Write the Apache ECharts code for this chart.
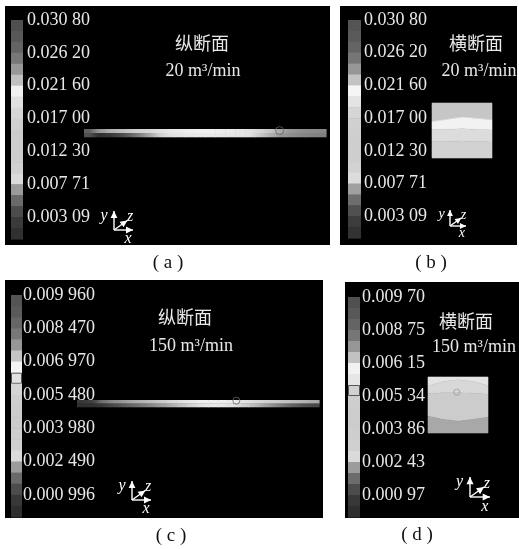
<!DOCTYPE html>
<html><head><meta charset="utf-8">
<script src="https://cdn.jsdelivr.net/npm/echarts@6/dist/echarts.min.js"></script>
<style>html,body{margin:0;padding:0;background:#fff}#c{width:519px;height:549px}</style>
</head><body><div id="c"></div>
<script>
// ---- colour-bar tick labels ----
const labelsA = ['0.030 80','0.026 20','0.021 60','0.017 00','0.012 30','0.007 71','0.003 09'];
const labelsB = ['0.030 80','0.026 20','0.021 60','0.017 00','0.012 30','0.007 71','0.003 09'];
const labelsC = ['0.009 960','0.008 470','0.006 970','0.005 480','0.003 980','0.002 490','0.000 996'];
const labelsD = ['0.009 70','0.008 75','0.006 15','0.005 34','0.003 86','0.002 43','0.000 97'];
// ---- colour-bar band grey levels (top -> bottom, 20 bands) ----
const bandGrayA = [80,88,100,120,152,192,240,224,214,208,204,204,205,208,218,154,106,76,58,48];
const bandGrayB = [84,90,100,118,150,195,245,228,214,208,206,206,206,210,220,160,110,80,60,50];
const bandGrayC = [84,90,102,120,150,196,244,226,212,206,204,204,206,208,218,156,106,76,56,46];
const bandGrayD = [80,88,100,118,150,194,242,230,210,206,204,204,206,208,218,156,108,76,56,46];
const outlineBandC = 7;
const outlineBandD = 8;
// ---- longitudinal strips (24 columns, top row / bottom row grey) ----
const stripATop    = [96,152,176,188,200,210,216,224,230,234,238,240,240,238,234,230,224,212,196,168,152,144,140,136];
const stripABottom = [80,48,56,72,96,128,168,208,224,228,232,234,234,232,230,228,224,200,176,152,144,136,132,128];
const stripCTop    = [56,64,112,136,152,168,180,192,204,216,226,234,240,240,240,236,228,220,212,204,196,188,180,168];
const stripCBottom = [48,48,56,72,88,104,120,138,156,176,196,214,228,234,232,224,208,188,164,140,116,96,80,72];
// ---- marker circles ----
const circleA = [[19.4, 0.4]];
const circleC = [[15.8, 0.2]];
const circleD = [[0.48, 0.27]];
// ---- cross sections: band boundaries (fraction from top) at xs ----
const xs = [0, 0.25, 0.5, 0.75, 1];
const secBBounds = [[0,0,0,0,0],[0.34,0.30,0.26,0.28,0.31],[0.48,0.48,0.47,0.48,0.49],[0.70,0.70,0.69,0.70,0.71],[1,1,1,1,1]];
const secBGray = [198,242,220,210];
const secDBounds = [[0,0,0,0,0],[0.16,0.08,0.05,0.08,0.15],[0.30,0.28,0.28,0.29,0.31],[0.70,0.76,0.79,0.76,0.72],[1,1,1,1,1]];
const secDGray = [228,216,204,168];

const gray = g => 'rgb(' + Math.round(g) + ',' + Math.round(g) + ',' + Math.round(g) + ')';
const SERIF = '"Liberation Serif","Times New Roman",serif';
const TXT = '#e8e8e8';

function cbRender(outline) {
  return function (params, api) {
    const i = api.value(0), g = api.value(1);
    const p0 = api.coord([0, i]), p1 = api.coord([1, i + 1]);
    const r = {x: p0[0], y: Math.min(p0[1], p1[1]), width: p1[0] - p0[0], height: Math.abs(p1[1] - p0[1]) + 0.6};
    const ch = [{type: 'rect', shape: r, style: {fill: gray(g)}}];
    if (i === outline) {
      ch.push({type: 'rect', shape: {x: r.x + 0.5, y: r.y + 0.5, width: r.width - 1, height: r.height - 1.6},
        style: {fill: 'none', stroke: '#555', lineWidth: 1}});
    }
    return {type: 'group', children: ch};
  };
}
// each strip cell: horizontal gradient from its grey (at cell centre) to the next cell's grey
function cellRender(params, api) {
  const c = api.value(0), rw = api.value(1), g = api.value(2), gp = api.value(3), gn = api.value(4);
  const p0 = api.coord([c, rw]), p1 = api.coord([c + 1, rw + 1]);
  return {type: 'rect', shape: {x: p0[0], y: Math.min(p0[1], p1[1]), width: p1[0] - p0[0] + 0.6, height: Math.abs(p1[1] - p0[1]) + 0.3},
    style: {fill: new echarts.graphic.LinearGradient(0, 0, 1, 0, [
      {offset: 0, color: gray((g + gp) / 2)}, {offset: 0.5, color: gray(g)}, {offset: 1, color: gray((g + gn) / 2)}])}};
}
function secRender(bounds) {
  return function (params, api) {
    const i = api.value(0), g = api.value(1);
    const up = bounds[i], lo = bounds[i + 1];
    const pts = [];
    xs.forEach((x, k) => pts.push(api.coord([x, up[k]])));
    for (let k = xs.length - 1; k >= 0; k--) pts.push(api.coord([xs[k], lo[k]]));
    return {type: 'polygon', shape: {points: pts}, style: {fill: gray(g), stroke: gray(g), lineWidth: 0.6}};
  };
}
function stripData(top, bottom) {
  const d = [];
  [top, bottom].forEach((row, r) => row.forEach((g, c) =>
    d.push([c, r, g, row[Math.max(c - 1, 0)], row[Math.min(c + 1, row.length - 1)]])));
  return d;
}
function cbAxis(gi, labels, margin) {
  return {gridIndex: gi, type: 'value', min: 0, max: 20, interval: 3, inverse: true, position: 'right', z: 10,
    axisLine: {show: false}, axisTick: {show: false}, splitLine: {show: false},
    axisLabel: {show: true, margin: margin, color: TXT, fontSize: 18, fontFamily: SERIF, showMaxLabel: false,
      formatter: v => (Math.abs(v / 3 - Math.round(v / 3)) < 1e-6 && labels[Math.round(v / 3)] !== undefined) ? labels[Math.round(v / 3)] : ''}};
}
function hidAxis(gi, max, inverse) {
  return {gridIndex: gi, type: 'value', min: 0, max: max, inverse: !!inverse, show: false};
}

function arrowHead(x1, y1, x2, y2, h, w) {
  const dx = x2 - x1, dy = y2 - y1, L = Math.sqrt(dx * dx + dy * dy);
  const ux = dx / L, uy = dy / L, bx = x2 - ux * h, by = y2 - uy * h;
  return {type: 'polygon', z: 100, shape: {points: [[x2, y2], [bx - uy * w, by + ux * w], [bx + uy * w, by - ux * w]]}, style: {fill: '#fff'}};
}
function triad(cx, cy, s, fs) {
  const k = s / 19;
  const els = [];
  const ends = [[cx, cy - s], [cx + s, cy], [cx + 0.7 * s, cy - 0.5 * s]];
  ends.forEach(e => {
    els.push({type: 'line', z: 100, shape: {x1: cx, y1: cy, x2: e[0], y2: e[1]}, style: {stroke: '#fff', lineWidth: 1.4}});
    els.push(arrowHead(cx, cy, e[0], e[1], 6 * k + 1, 2.8 * k + 0.6));
  });
  const lab = (t, x, y) => ({type: 'text', z: 100, style: {text: t, x: x, y: y, fill: '#fff', font: 'italic ' + fs + 'px ' + SERIF,
    align: 'center', verticalAlign: 'middle', textAlign: 'center', textVerticalAlign: 'middle'}});
  els.push(lab('y', cx - 10 * k, cy - 14 * k));
  els.push(lab('z', cx + 16 * k, cy - 13 * k));
  els.push(lab('x', cx + 14 * k, cy + 9 * k));
  return els;
}
function txt(t, x, y, color, size) {
  return {type: 'text', z: 100, style: {text: t, x: x, y: y, fill: color, font: size + 'px ' + SERIF + ',"Noto Sans CJK SC"',
    align: 'center', verticalAlign: 'middle', textAlign: 'center', textVerticalAlign: 'middle'}};
}
function bg(x, y, w, h) {
  return {type: 'rect', z: -5, shape: {x: x, y: y, width: w, height: h}, style: {fill: '#000'}};
}

const graphics = [
  bg(5, 6, 325, 239), bg(340, 6, 177, 239), bg(5, 280, 318, 238), bg(345, 282, 174, 236),
  txt('纵断面', 202, 45, TXT, 18), txt('20 m³/min', 203, 71, TXT, 18),
  txt('横断面', 476, 45, TXT, 18), txt('20 m³/min', 479, 71, TXT, 18),
  txt('纵断面', 185, 319, TXT, 18), txt('150 m³/min', 191, 346, TXT, 18),
  txt('横断面', 466, 323, TXT, 18), txt('150 m³/min', 474, 347, TXT, 18),
  txt('( a )', 168, 263, '#111', 19), txt('( b )', 431, 263, '#111', 19),
  txt('( c )', 171, 536, '#111', 19), txt('( d )', 417, 535, '#111', 19)
].concat(triad(114, 230, 19, 16), triad(450, 226, 16, 14), triad(132, 500, 19, 16), triad(470, 497, 20, 16));

const grids = [
  {left: 11, top: 20, width: 12, height: 219},
  {left: 348, top: 20, width: 13, height: 218},
  {left: 11, top: 295, width: 11, height: 222},
  {left: 348, top: 297, width: 12, height: 220},
  {left: 84, top: 129, width: 242, height: 8},
  {left: 77, top: 400, width: 242, height: 7},
  {left: 432, top: 103, width: 60, height: 55},
  {left: 428, top: 377, width: 60, height: 56}
].map(g => Object.assign({containLabel: false, outerBoundsMode: 'none', show: false}, g));

const option = {
  animation: false,
  backgroundColor: '#fff',
  grid: grids,
  xAxis: [hidAxis(0, 1), hidAxis(1, 1), hidAxis(2, 1), hidAxis(3, 1), hidAxis(4, 24), hidAxis(5, 24), hidAxis(6, 1), hidAxis(7, 1)],
  yAxis: [cbAxis(0, labelsA, 4), cbAxis(1, labelsB, 3), cbAxis(2, labelsC, 1), cbAxis(3, labelsD, 2),
    hidAxis(4, 2, true), hidAxis(5, 2, true), hidAxis(6, 1, true), hidAxis(7, 1, true)],
  graphic: {elements: graphics},
  series: [
    {type: 'custom', xAxisIndex: 0, yAxisIndex: 0, renderItem: cbRender(-1), data: bandGrayA.map((g, i) => [i, g]), silent: true},
    {type: 'custom', xAxisIndex: 1, yAxisIndex: 1, renderItem: cbRender(-1), data: bandGrayB.map((g, i) => [i, g]), silent: true},
    {type: 'custom', xAxisIndex: 2, yAxisIndex: 2, renderItem: cbRender(outlineBandC), data: bandGrayC.map((g, i) => [i, g]), silent: true},
    {type: 'custom', xAxisIndex: 3, yAxisIndex: 3, renderItem: cbRender(outlineBandD), data: bandGrayD.map((g, i) => [i, g]), silent: true},
    {type: 'custom', xAxisIndex: 4, yAxisIndex: 4, renderItem: cellRender, data: stripData(stripATop, stripABottom), silent: true},
    {type: 'custom', xAxisIndex: 5, yAxisIndex: 5, renderItem: cellRender, data: stripData(stripCTop, stripCBottom), silent: true},
    {type: 'custom', xAxisIndex: 6, yAxisIndex: 6, renderItem: secRender(secBBounds), data: secBGray.map((g, i) => [i, g]), silent: true},
    {type: 'custom', xAxisIndex: 7, yAxisIndex: 7, renderItem: secRender(secDBounds), data: secDGray.map((g, i) => [i, g]), silent: true},
    {type: 'scatter', xAxisIndex: 4, yAxisIndex: 4, data: circleA, symbolSize: 8, z: 5, silent: true,
      itemStyle: {color: 'rgba(0,0,0,0)', borderColor: '#666', borderWidth: 1}},
    {type: 'scatter', xAxisIndex: 5, yAxisIndex: 5, data: circleC, symbolSize: 7, z: 5, silent: true,
      itemStyle: {color: 'rgba(0,0,0,0)', borderColor: '#666', borderWidth: 1}},
    {type: 'scatter', xAxisIndex: 7, yAxisIndex: 7, data: circleD, symbolSize: 6, z: 5, silent: true,
      itemStyle: {color: 'rgba(0,0,0,0)', borderColor: '#999', borderWidth: 1}}
  ]
};
const chart = echarts.init(document.getElementById('c'), null, {renderer: 'canvas'});
chart.setOption(option);
</script></body></html>
